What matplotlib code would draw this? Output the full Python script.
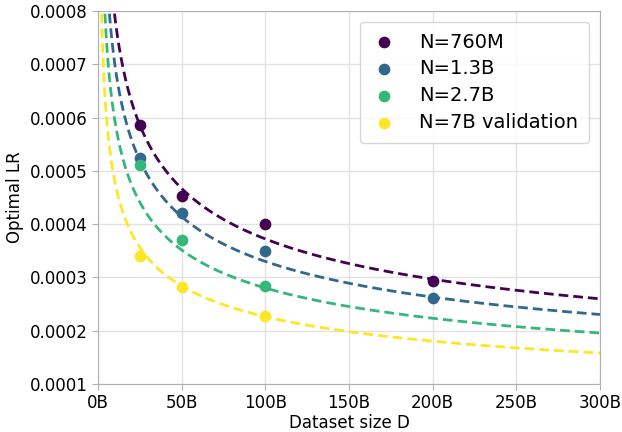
import numpy as np
import matplotlib
matplotlib.use("Agg")
import matplotlib.pyplot as plt
from matplotlib.ticker import FuncFormatter, FormatStrFormatter

# Model sizes (in billions of parameters) and labels
model_sizes = [0.76, 1.3, 2.7, 7.0]
labels = ["N=760M", "N=1.3B", "N=2.7B", "N=7B validation"]
colors = ["#440154", "#31688e", "#35b779", "#fde725"]

# Observed optimal LR (dataset size in billions of tokens)
d_760m = [25, 50, 100, 200]
lr_760m = [0.000586, 0.000453, 0.000400, 0.000294]
d_1p3b = [25, 50, 100, 200]
lr_1p3b = [0.000524, 0.000420, 0.000350, 0.000262]
d_2p7b = [25, 50, 100]
lr_2p7b = [0.000511, 0.000370, 0.000284]
d_7b = [25, 50, 100]
lr_7b = [0.000341, 0.000282, 0.000227]

# Fitted power law: LR = C * N^alpha * D^beta  (N, D in billions)
fit_C = 0.001578
fit_alpha = -0.224
fit_beta = -0.327

xticks = [0, 50, 100, 150, 200, 250, 300]
yticks = [0.0001, 0.0002, 0.0003, 0.0004, 0.0005, 0.0006, 0.0007, 0.0008]

fig = plt.figure(figsize=(6.22, 4.32), dpi=100)
ax = fig.add_axes([0.1576, 0.1111, 0.807, 0.8634])

series = [(d_760m, lr_760m), (d_1p3b, lr_1p3b), (d_2p7b, lr_2p7b), (d_7b, lr_7b)]
d_curve = np.linspace(1, 300, 600)
for (d, lr), n, lab, c in zip(series, model_sizes, labels, colors):
    ax.plot(d_curve, fit_C * n ** fit_alpha * d_curve ** fit_beta, "--",
            color=c, lw=2.0, dashes=(3.5, 1.8), zorder=2)
    ax.scatter(d, lr, s=55, color=c, label=lab, zorder=3)

ax.set_xlim(0, 300)
ax.set_ylim(0.0001, 0.0008)
ax.set_xticks(xticks)
ax.set_yticks(yticks)
ax.xaxis.set_major_formatter(FuncFormatter(lambda v, p: f"{int(v)}B"))
ax.yaxis.set_major_formatter(FormatStrFormatter("%.4f"))
ax.tick_params(labelsize=12, colors="#b0b0b0", labelcolor="black", length=4)
ax.grid(True, color="#e2e2e2", lw=1.0)
ax.set_axisbelow(True)
for s in ax.spines.values():
    s.set_color("#b0b0b0")
ax.set_xlabel("Dataset size D", fontsize=12, labelpad=1)
ax.set_ylabel("Optimal LR", fontsize=12)

leg = ax.legend(loc="upper right", fontsize=14, borderaxespad=0,
                handletextpad=1.15, labelspacing=0.4, borderpad=0.55,
                handlelength=1.35, bbox_to_anchor=(0.978, 0.971))
leg.get_frame().set_edgecolor("#cccccc")

fig.savefig("out.png", dpi=100)
